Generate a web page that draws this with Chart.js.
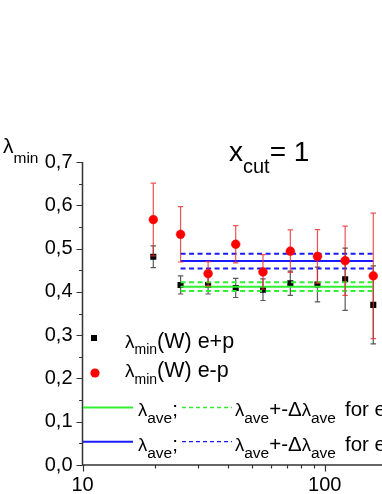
<!DOCTYPE html>
<html><head><meta charset="utf-8">
<script src="https://cdn.jsdelivr.net/npm/chart.js@4/dist/chart.umd.min.js"></script>
<style>
html,body{margin:0;padding:0;background:#fff;overflow:hidden}
#wrap{position:relative;width:382px;height:494px;overflow:hidden;background:#fff}
#c{position:absolute;left:0;top:0}
.t{position:absolute;white-space:nowrap;line-height:1;font-family:"Liberation Sans",Arial,sans-serif;color:#000}
.s{position:relative}
.sym{position:absolute}
#leg{position:absolute;left:0;top:0}
</style></head>
<body><div id="wrap"><canvas id="c" width="620" height="494"></canvas>
<svg id="leg" width="382" height="494" xmlns="http://www.w3.org/2000/svg"></svg></div>
<script>
// ---- data ----
const xCut        = [19.6, 25.4, 33.0, 42.9, 55.6, 72.1, 93.3, 121.4, 158.6];
const lamEplusP   = [0.481, 0.416, 0.416, 0.409, 0.405, 0.420, 0.417, 0.429, 0.370];
const errEplusP   = [0.025, 0.021, 0.021, 0.022, 0.025, 0.028, 0.040, 0.072, 0.090];
const lamEminusP  = [0.567, 0.533, 0.442, 0.510, 0.446, 0.494, 0.482, 0.472, 0.437];
const errEminusP  = [0.084, 0.064, 0.028, 0.043, 0.040, 0.049, 0.062, 0.080, 0.145];
const aveEplusP   = [0.412, 0.010];   // average, +-delta
const aveEminusP  = [0.471, 0.017];
const yTickValues = [0, 0.1, 0.2, 0.3, 0.4, 0.5, 0.6, 0.7];
const xTickLabels = [10, 100, 1000];

const FONT = '"Liberation Sans", Arial, sans-serif';
const RED = '#ff0000', BLUE = '#1a1aff', GREEN = '#33ee33';

const pts = (ys) => xCut.map((x, i) => ({x, y: ys[i]}));
const hline = (y) => [{x: xCut[1], y}, {x: xCut[xCut.length - 1], y}];

function lineDs(y, color, dashed) {
  return {type: 'line', data: hline(y), borderColor: color, borderWidth: 2,
    borderDash: dashed ? [5, 3.5] : [], pointRadius: 0, fill: false, tension: 0};
}

const datasets = [
  {type: 'scatter', data: pts(lamEminusP), errors: errEminusP, errColor: 'rgba(235,40,40,0.8)',
    pointStyle: 'circle', pointRadius: 4.4, backgroundColor: RED, borderColor: RED, borderWidth: 0.5},
  lineDs(aveEminusP[0], BLUE, false),
  lineDs(aveEminusP[0] + aveEminusP[1], BLUE, true),
  lineDs(aveEminusP[0] - aveEminusP[1], BLUE, true),
  lineDs(aveEplusP[0], GREEN, false),
  lineDs(aveEplusP[0] + aveEplusP[1], GREEN, true),
  lineDs(aveEplusP[0] - aveEplusP[1], GREEN, true),
  {type: 'scatter', data: pts(lamEplusP), errors: errEplusP, errColor: 'rgba(60,60,60,0.85)',
    pointStyle: 'rect', pointRadius: 4.3, backgroundColor: '#000', borderColor: '#000', borderWidth: 0}
];

const errorBars = {
  id: 'errorBars',
  beforeDatasetDraw(chart, args) {
    const ds = chart.data.datasets[args.index];
    if (!ds.errors) return;
    const {ctx, scales: {x, y}} = chart;
    ctx.save();
    ctx.strokeStyle = ds.errColor; ctx.lineWidth = 1.2;
    ds.data.forEach((p, i) => {
      const px = x.getPixelForValue(p.x);
      const yt = y.getPixelForValue(p.y + ds.errors[i]);
      const yb = y.getPixelForValue(p.y - ds.errors[i]);
      ctx.beginPath();
      ctx.moveTo(px, yt); ctx.lineTo(px, yb);
      ctx.moveTo(px - 2.7, yt); ctx.lineTo(px + 2.7, yt);
      ctx.moveTo(px - 2.7, yb); ctx.lineTo(px + 2.7, yb);
      ctx.stroke();
    });
    ctx.restore();
  }
};

const axesPlugin = {
  id: 'axesPlugin',
  beforeDatasetsDraw(chart) {
    const {ctx, chartArea: a, scales: {x, y}} = chart;
    ctx.save();
    ctx.strokeStyle = '#333'; ctx.lineWidth = 1.5;
    ctx.beginPath();
    ctx.moveTo(a.left, a.top); ctx.lineTo(a.left, a.bottom); ctx.lineTo(a.right, a.bottom);
    ctx.stroke();
    ctx.lineWidth = 1.2;
    ctx.beginPath();
    for (let v = 0; v <= 0.7001; v += 0.05) {
      const py = Math.round(y.getPixelForValue(v)) + 0.5;
      const major = Math.abs(v * 10 - Math.round(v * 10)) < 1e-6;
      ctx.moveTo(a.left, py); ctx.lineTo(a.left - (major ? 6 : 3.5), py);
    }
    for (let d = 10; d < x.max; d *= 10) {
      for (let k = 1; k <= 10; k++) {
        const v = k * d;
        if (v > x.max) break;
        const px = Math.round(x.getPixelForValue(v)) + 0.5;
        const major = (k === 1 || k === 10);
        ctx.moveTo(px, a.bottom); ctx.lineTo(px, a.bottom + (major ? 6.5 : 3.5));
      }
    }
    ctx.stroke();
    ctx.restore();
  }
};

new Chart(document.getElementById('c'), {
  data: {datasets},
  options: {
    responsive: false, animation: false, devicePixelRatio: 1,
    layout: {padding: {left: 0, top: 162, right: 53, bottom: 0}},
    plugins: {legend: {display: false}, tooltip: {enabled: false}, title: {display: false}},
    scales: {
      x: {type: 'logarithmic', min: 10, max: 1000,
        grid: {display: false}, border: {display: false},
        ticks: {autoSkip: false, maxRotation: 0, padding: 0, color: '#000', font: {family: FONT, size: 20},
          callback: (v) => xTickLabels.includes(Math.round(v)) && Math.abs(Math.round(v) - v) < 1e-6 ? String(Math.round(v)) : ''},
        afterFit: (s) => { s.height = 29; }},
      y: {type: 'linear', min: 0, max: 0.7,
        grid: {display: false}, border: {display: false},
        afterBuildTicks: (s) => { s.ticks = yTickValues.map(v => ({value: v})); },
        ticks: {padding: 2, color: '#000', font: {family: FONT, size: 20},
          callback: (v) => v.toFixed(1).replace('.', ',')},
        afterFit: (s) => { s.width = 82.5; }}
    }
  },
  plugins: [errorBars, axesPlugin]
});

// ---- text overlays (title, axis label, legend) ----
const wrap = document.getElementById('wrap');
const svg = document.getElementById('leg');
function text(left, baseline, size, html) {
  const d = document.createElement('div');
  d.className = 't';
  d.style.left = left + 'px';
  d.style.top = (baseline - 0.8465 * size) + 'px';
  d.style.fontSize = size + 'px';
  d.innerHTML = html;
  wrap.appendChild(d);
  return d;
}
const sub = (t, size, dy) => `<span class="s" style="font-size:${size}px;top:${dy}px">${t}</span>`;
const lam = (size) => `<span style="font-size:${size}px">λ</span>`;

function svgEl(tag, attrs) {
  const e = document.createElementNS('http://www.w3.org/2000/svg', tag);
  for (const k in attrs) e.setAttribute(k, attrs[k]);
  svg.appendChild(e);
}

// title
text(229, 161.7, 28, 'x' + sub('cut', 20, 12) + '= 1');
// y-axis label
text(3, 153, 21, lam(21) + sub('min', 15.5, 10));

// legend rows
svgEl('rect', {x: 91, y: 335, width: 6, height: 6, fill: '#000'});
text(125, 349, 21.5, lam(19) + sub('min', 14, 6.5) + '(W) e+p');
svgEl('circle', {cx: 95, cy: 373, r: 4.6, fill: RED});
text(125, 378.5, 21.5, lam(19) + sub('min', 14, 6.5) + '(W) e-p');

function aveRow(yLine, baseline, color, label) {
  svgEl('line', {x1: 83, x2: 133, y1: yLine, y2: yLine, stroke: color, 'stroke-width': 2});
  text(138, baseline, 20.5, lam(18.5) + sub('ave', 15.5, 6.5) + ';');
  svgEl('line', {x1: 182, x2: 232, y1: yLine, y2: yLine, stroke: color, 'stroke-width': 1.3, 'stroke-dasharray': '4 3'});
  text(235, baseline, 20.5, lam(18.5) + sub('ave', 15.5, 6.5) + '+-Δ' + lam(18.5) + sub('ave', 15.5, 6.5));
  text(345, baseline, 20.5, label);
}
aveRow(407.5, 416.7, GREEN, 'for e+p');
aveRow(441.7, 451.7, BLUE, 'for e-p');
</script>
</body></html>
